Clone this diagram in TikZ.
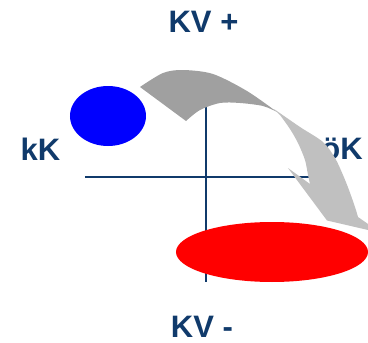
\documentclass[tikz,border=0pt]{standalone}
\usepackage{fontspec}
\setmainfont{Liberation Sans}
\usepackage{tikz}
\usepackage{xcolor}
\definecolor{navy}{RGB}{16,58,107}
\definecolor{greydark}{RGB}{160,160,160}
\definecolor{greylight}{RGB}{192,192,192}

\begin{document}
\begin{tikzpicture}[x=1pt,y=-1pt,
  lbl/.style={font=\bfseries\fontsize{31}{36}\selectfont, text=navy, inner sep=0pt, anchor=base},
  axis/.style={draw=navy, line width=2pt}]
\useasboundingbox (0,0) rectangle (368,343);
% labels
\node[lbl] (kvplus) at (203.5,32.7) {KV +};
\node[lbl] (kvminus) at (202,337.7) {KV -};
\node[lbl] (kk) at (40.5,160) {kK};
\node[lbl] (oek) at (342,159.5) {öK};
% axes
\coordinate (W) at (85,176.5); \coordinate (E) at (312,176.5);
\coordinate (N) at (206,100); \coordinate (S) at (206,282);
\draw[axis] (W) -- (E); \draw[axis] (N) -- (S);
% ellipses
\fill[blue] (108,116) ellipse (38 and 30);
\fill[red] (272,252) ellipse (96 and 30);
% curved arrow
\begin{scope}
\clip (0,0) rectangle (368,343);
\fill[greylight] (274,109) -- plot[smooth] coordinates {(274,109) (300,127) (323,142) (335,158) (343,175) (349,190) (355,207) (358,217)}
  -- (381,233) -- (327,220.5) -- (288,168) -- (310,184)
  -- plot[smooth] coordinates {(310,184) (308,175) (305,160) (298,143) (290,129) (280,115)} -- cycle;
\fill[greydark] (140,87) -- plot[smooth] coordinates {(140,87) (163,73) (183,70) (213,74) (247,91) (277,112)}
  -- plot[smooth] coordinates {(277,112) (263,106) (240,103) (220,103) (200,110) (186,121)} -- cycle;
\end{scope}
\end{tikzpicture}
\end{document}
